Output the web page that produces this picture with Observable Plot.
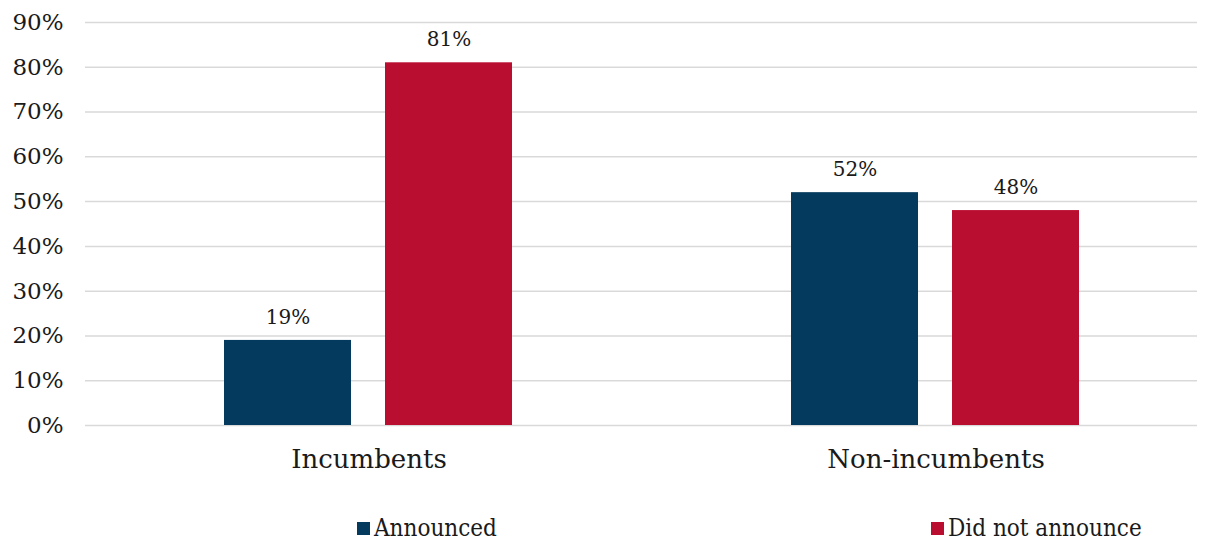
<!DOCTYPE html>
<html><head><meta charset="utf-8">
<script src="https://cdn.jsdelivr.net/npm/d3@7"></script>
<script src="https://cdn.jsdelivr.net/npm/@observablehq/plot@0.6"></script>
<style>
body{margin:0;background:#fff;font-family:"DejaVu Serif",serif;color:#1a1a1a;}
#wrap{position:relative;width:1212px;height:544px;overflow:hidden;}
#legend{position:absolute;top:514px;left:0;width:1212px;height:30px;font-family:"DejaVu Serif Condensed","DejaVu Serif",serif;font-size:24px;}
.item{position:absolute;display:flex;align-items:center;white-space:nowrap;}
.sw{width:13px;height:13px;margin-right:4px;display:inline-block;}
</style></head><body>
<div id="wrap"><div id="chart"></div><div id="legend"></div></div>
<script>
const groups = ["Incumbents", "Non-incumbents"];
const series = ["Announced", "Did not announce"];
const announced = [0.19, 0.52];
const didNotAnnounce = [0.81, 0.48];
const yTicks = [0, 0.1, 0.2, 0.3, 0.4, 0.5, 0.6, 0.7, 0.8, 0.9];
const colors = ["#043a5d", "#ba0e30"];

const data = groups.flatMap((g, i) => [
  {group: g, series: series[0], value: announced[i]},
  {group: g, series: series[1], value: didNotAnnounce[i]}
]);
const gridData = groups.flatMap(g => yTicks.map(v => ({group: g, v})));
const pct = d3.format(".0%");

const chart = Plot.plot({
  width: 1212, height: 490,
  marginLeft: 85, marginRight: 15, marginTop: 22, marginBottom: 65,
  style: {fontFamily: "DejaVu Serif", background: "#fff", color: "#1a1a1a", overflow: "visible"},
  fx: {domain: groups, range: [84, 1219], padding: 0},
  x: {domain: series, paddingInner: 0.21, paddingOuter: 0.856, axis: null},
  y: {domain: [0, 0.9]},
  color: {domain: series, range: colors},
  marks: [
    Plot.ruleY(gridData.filter(d => d.group === groups[0]), {fx: "group", y: "v", stroke: "#d9d9d9", strokeWidth: 1.5}),
    Plot.ruleY(gridData.filter(d => d.group === groups[1]), {fx: "group", y: "v", stroke: "#d9d9d9", strokeWidth: 1.5, insetRight: 22}),
    Plot.barY(data, {fx: "group", x: "series", y: "value", fill: "series"}),
    Plot.text(data, {fx: "group", x: "series", y: "value", text: d => pct(d.value), dy: -23, fontSize: 20, fill: "#1a1a1a"}),
    Plot.axisY(yTicks, {tickFormat: pct, tickSize: 0, tickPadding: 22, fontSize: 23, fill: "#1a1a1a", label: null}),
    Plot.axisFx({anchor: "bottom", tickSize: 0, tickPadding: 24, fontSize: 26, fill: "#1a1a1a", label: null})
  ]
});
document.getElementById("chart").appendChild(chart);

const legendPos = [357, 931];
const legend = document.getElementById("legend");
series.forEach((s, i) => {
  const it = document.createElement("div");
  it.className = "item";
  it.style.left = legendPos[i] + "px";
  it.innerHTML = `<span class="sw" style="background:${colors[i]}"></span><span>${s}</span>`;
  legend.appendChild(it);
});
</script>
</body></html>
